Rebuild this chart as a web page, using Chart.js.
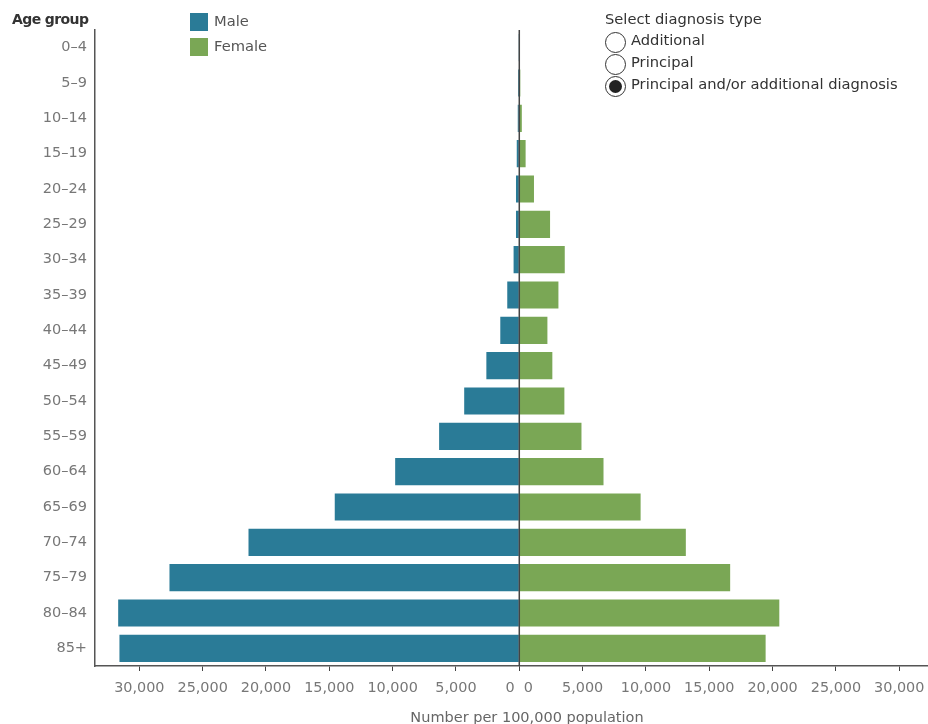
<!DOCTYPE html>
<html>
<head>
<meta charset="utf-8">
<script src="https://cdn.jsdelivr.net/npm/chart.js@4.4.1/dist/chart.umd.min.js"></script>
<style>
  html, body { margin: 0; padding: 0; background: #fff; overflow: hidden; }
  body { width: 928px; height: 724px; position: relative; font-family: "DejaVu Sans", sans-serif; }
  #wrap { position: absolute; left: 0; top: 0; width: 954px; height: 724px; }
  .lbl { position: absolute; white-space: nowrap; font-size: 14.7px; }
  .sw { position: absolute; width: 18px; height: 18px; }
  .radio { position: absolute; width: 19px; height: 19px; border: 1px solid #333; border-radius: 50%; background: #fff; }
  .radio.on::after { content: ""; position: absolute; left: 3px; top: 3px; width: 13px; height: 13px; border-radius: 50%; background: #222; }
</style>
</head>
<body>
<div id="wrap"><canvas id="chart" width="954" height="724"></canvas></div>

<div class="lbl" style="left:12px;top:11px;font-size:14px;color:#333;font-weight:bold;letter-spacing:-0.6px;">Age group</div>

<div class="sw" style="left:190px;top:13px;background:#2a7b97;"></div>
<div class="lbl" style="left:214px;top:12px;color:#555;">Male</div>
<div class="sw" style="left:190px;top:38px;background:#7aa755;"></div>
<div class="lbl" style="left:214px;top:37px;color:#555;">Female</div>

<div class="lbl" style="left:605px;top:10px;color:#333;">Select diagnosis type</div>
<div class="radio" style="left:605px;top:32px;"></div>
<div class="lbl" style="left:631px;top:31px;color:#333;">Additional</div>
<div class="radio" style="left:605px;top:54px;"></div>
<div class="lbl" style="left:631px;top:53px;color:#333;">Principal</div>
<div class="radio on" style="left:605px;top:76px;"></div>
<div class="lbl" style="left:631px;top:75px;color:#333;">Principal and/or additional diagnosis</div>

<div class="lbl" style="left:527px;top:709px;transform:translateX(-50%);font-size:14.5px;color:#666;">Number per 100,000 population</div>

<script>
// age groups, top to bottom
const ageGroups = ['0–4', '5–9', '10–14', '15–19', '20–24', '25–29', '30–34', '35–39', '40–44',
  '45–49', '50–54', '55–59', '60–64', '65–69', '70–74', '75–79', '80–84', '85+'];

// rates per 100,000 population
const maleRates = [20, 100, 120, 200, 260, 260, 450, 950, 1500,
  2600, 4350, 6330, 9800, 14570, 21380, 27620, 31670, 31570];
const femaleRates = [50, 80, 200, 500, 1160, 2430, 3590, 3090, 2220,
  2610, 3560, 4910, 6650, 9580, 13150, 16650, 20530, 19450];

const tickValues = [0, 5000, 10000, 15000, 20000, 25000, 30000];
const axisMax = 33500;

const maleColor = '#2a7b97';
const femaleColor = '#7aa755';

// vertical line at zero between the two halves
const centreLine = {
  id: 'centreLine',
  afterDatasetsDraw(chart) {
    const x = chart.scales.xR.getPixelForValue(0);
    const ctx = chart.ctx;
    ctx.save();
    ctx.strokeStyle = '#444';
    ctx.lineWidth = 1.5;
    ctx.beginPath();
    ctx.moveTo(x, chart.chartArea.top);
    ctx.lineTo(x, chart.chartArea.bottom);
    ctx.stroke();
    ctx.restore();
  }
};

function xAxis(reverse) {
  return {
    type: 'linear',
    position: 'bottom',
    stack: 'pyramid',
    stackWeight: 1,
    reverse: reverse,
    min: 0,
    max: axisMax,
    afterBuildTicks: s => { s.ticks = tickValues.map(v => ({ value: v })); },
    afterFit: s => { s.height = 58; },
    border: { display: true, color: '#555', width: 1.5 },
    grid: { display: true, drawOnChartArea: false, drawTicks: true, tickLength: 5, color: '#444' },
    ticks: {
      autoSkip: false,
      maxRotation: 0,
      padding: 9,
      color: '#777',
      font: { family: 'DejaVu Sans', size: 14.4 },
      callback: v => {
        if (v === 0) return reverse ? '0    ' : '    0';
        return v.toLocaleString('en-US');
      }
    }
  };
}

new Chart(document.getElementById('chart'), {
  type: 'bar',
  data: {
    labels: ageGroups,
    datasets: [
      { label: 'Male', data: maleRates, xAxisID: 'xL', backgroundColor: maleColor, grouped: false },
      { label: 'Female', data: femaleRates, xAxisID: 'xR', backgroundColor: femaleColor, grouped: false }
    ]
  },
  options: {
    indexAxis: 'y',
    responsive: false,
    animation: false,
    layout: { padding: { top: 30, right: 3, left: 0, bottom: 0 } },
    datasets: { bar: { categoryPercentage: 1, barPercentage: 0.77 } },
    plugins: { legend: { display: false }, tooltip: { enabled: false } },
    scales: {
      y: {
        type: 'category',
        afterFit: s => { s.width = 95; },
        border: { display: true, color: '#555', width: 1.5 },
        grid: { display: false, drawTicks: false },
        ticks: { padding: 8, color: '#777', font: { family: 'DejaVu Sans', size: 14.5 } }
      },
      xL: xAxis(true),
      xR: xAxis(false)
    }
  },
  plugins: [centreLine]
});
</script>
</body>
</html>
